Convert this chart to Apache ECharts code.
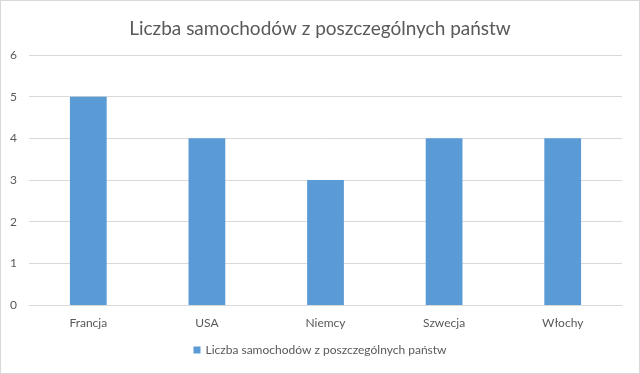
<!DOCTYPE html>
<html><head><meta charset="utf-8">
<script src="https://cdn.jsdelivr.net/npm/echarts@6/dist/echarts.min.js"></script>
<style>html,body{margin:0;padding:0;background:#fff}#c{width:640px;height:374px;box-sizing:border-box;border:1px solid #d9d9d9}</style>
</head><body><div id="c"></div>
<script>
const categories = ['Francja', 'USA', 'Niemcy', 'Szwecja', 'Włochy'];
const values = [5, 4, 3, 4, 4];
const seriesName = 'Liczba samochodów z poszczególnych państw';
const titleText = 'Liczba samochodów z poszczególnych państw';

const font = 'Lato, "Open Sans", sans-serif';
const chart = echarts.init(document.getElementById('c'), null, {renderer: 'canvas'});
chart.setOption({
  animation: false,
  textStyle: {fontFamily: font},
  title: {text: titleText, left: 'center', top: 13,
    textStyle: {fontFamily: font, fontSize: 19, fontWeight: 'normal', color: '#595959'}},
  legend: {bottom: 12, left: 'center', itemWidth: 7, itemHeight: 7, itemGap: 10,
    icon: 'rect', textStyle: {fontFamily: font, fontSize: 12, color: '#595959'},
    data: [seriesName]},
  grid: {left: 28, right: 17, top: 54, bottom: 68},
  xAxis: {type: 'category', data: categories,
    axisLine: {lineStyle: {color: '#d9d9d9'}}, axisTick: {show: false},
    axisLabel: {color: '#595959', fontSize: 12, fontFamily: font, margin: 12}},
  yAxis: {type: 'value', min: 0, max: 6, interval: 1,
    axisLine: {show: false}, axisTick: {show: false},
    splitLine: {lineStyle: {color: '#d9d9d9'}},
    axisLabel: {color: '#595959', fontSize: 12, fontFamily: font, margin: 12}},
  series: [{name: seriesName, type: 'bar', data: values, barWidth: '31%',
    itemStyle: {color: '#5B9BD5'}}]
});
</script></body></html>
